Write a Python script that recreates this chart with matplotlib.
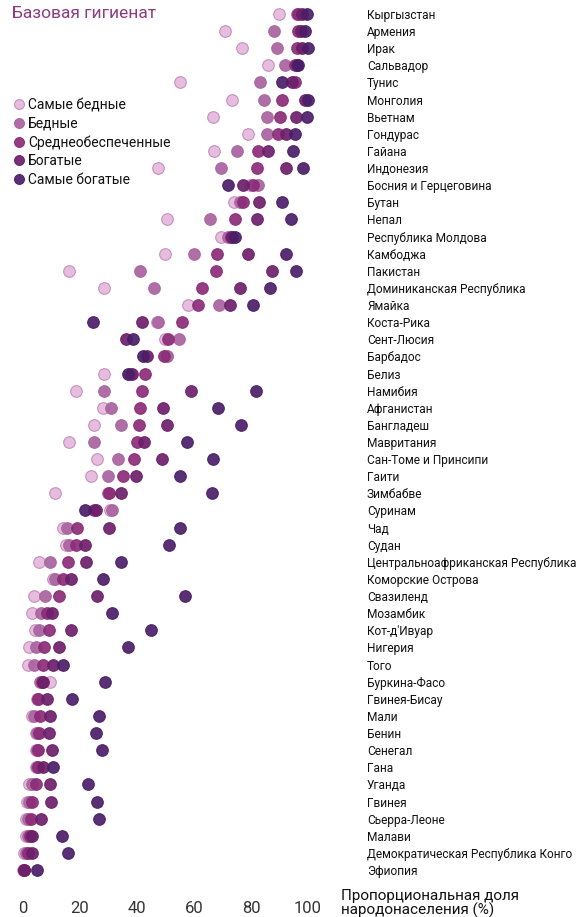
"""
Базовая гигиена: доля населения по квинтилям благосостояния, по странам.
Точечная диаграмма, одна строка на страну.
"""

import numpy as np
import matplotlib
matplotlib.use("Agg")
import matplotlib.pyplot as plt


countries = [
    "Кыргызстан", "Армения", "Ирак", "Сальвадор", "Тунис", "Монголия",
    "Вьетнам", "Гондурас", "Гайана", "Индонезия", "Босния и Герцеговина",
    "Бутан", "Непал", "Республика Молдова", "Камбоджа", "Пакистан",
    "Доминиканская Республика", "Ямайка", "Коста-Рика", "Сент-Люсия",
    "Барбадос", "Белиз", "Намибия", "Афганистан", "Бангладеш", "Мавритания",
    "Сан-Томе и Принсипи", "Гаити", "Зимбабве", "Суринам", "Чад", "Судан",
    "Центральноафриканская Республика", "Коморские Острова", "Свазиленд",
    "Мозамбик", "Кот-д'Ивуар", "Нигерия", "Того", "Буркина-Фасо",
    "Гвинея-Бисау", "Мали", "Бенин", "Сенегал", "Гана", "Уганда", "Гвинея",
    "Сьерра-Леоне", "Малави", "Демократическая Республика Конго", "Эфиопия",
]

poorest = [90, 71, 77, 86, 55, 73.5, 66.5, 79, 67, 47.5,
           79.5, 74, 50.5, 69.5, 50, 16.3, 28.5, 58, 47, 50,
           50.5, 28.4, 18.5, 28.2, 25, 16, 26, 24, 11.2, 30.5,
           14, 15, 5.7, 10.5, 4, 3.3, 4.2, 2, 1.6, 9.5,
           5, 3.3, 4.5, 4.5, 4.5, 2.1, 1.3, 1, 1, 0.4, 0.1]
poor = [96, 88, 89, 92, 83, 84.7, 85.5, 85.5, 75, 69.5,
        82.5, 76, 65.5, 72, 60, 41, 46, 68.8, 47.5, 54.7,
        50.5, 37.5, 28.5, 30.8, 34.4, 25, 33.2, 30, 30, 31.3,
        15.3, 16, 9.5, 11.2, 7.7, 6.2, 5.6, 4.4, 4, 6,
        5.2, 3.8, 4.8, 4.8, 4.8, 3, 2.2, 1.9, 1.6, 1.1, 0.2]
middle = [96.6, 96.4, 96, 95.4, 95.5, 90.8, 90.2, 89.6, 82.3, 82,
          80.6, 77.3, 74.5, 73, 68, 67.7, 62.7, 61.5, 55.7, 50.8,
          49.5, 42.8, 41.6, 41, 40.8, 39.9, 38.9, 35.2, 30.3, 25,
          18.8, 18.6, 15.9, 14.1, 12.6, 8.5, 9.1, 7.5, 7.1, 6.5,
          5.4, 6, 5.7, 5.4, 5.2, 4.6, 3.3, 2.7, 2.5, 1.9, 0.3]
rich = [98, 97.5, 97.8, 96, 94.5, 99, 95.8, 92.2, 86.1, 92.3,
        77.3, 82.9, 82, 73.5, 79, 87.3, 76.1, 72.6, 41.6, 36.1,
        43.4, 38.1, 59, 49.2, 50.6, 42.6, 48.7, 39.5, 34.3, 25.6,
        30.3, 21.8, 22, 16.7, 25.9, 10.3, 16.8, 12.7, 10.6, 7,
        8.5, 9.5, 9.2, 10.3, 7.1, 9.5, 9.7, 6.2, 3, 3, 0.5]
richest = [99.5, 99, 100, 96.6, 90.8, 100, 99.5, 95.4, 94.8, 98.1,
           71.8, 90.8, 94, 74.4, 92.3, 95.8, 86.7, 80.8, 24.7, 38.5,
           42, 37, 81.6, 68.5, 76.4, 57.7, 66.5, 55.1, 66.4, 21.8,
           55.1, 51.3, 34.4, 28, 56.8, 31.3, 44.8, 36.7, 13.9, 28.9,
           17.3, 26.8, 25.6, 27.8, 10.6, 22.9, 25.9, 26.8, 13.8, 15.7, 4.8]

quintile_labels = ["Самые бедные", "Бедные", "Среднеобеспеченные",
                   "Богатые", "Самые богатые"]
x_ticks = [0, 20, 40, 60, 80, 100]

# fill colour / edge colour per quintile, poorest -> richest
FACES = ["#e4b8dc", "#a8639f", "#8b2c78", "#6c1f6a", "#4b1e68"]
EDGES = ["#c38aba", "#a8639f", "#8b2c78", "#6c1f6a", "#4b1e68"]

W, H = 582, 917

plt.rcParams["font.family"] = ["Roboto", "DejaVu Sans"]


def main():
    fig = plt.figure(figsize=(W / 100, H / 100), dpi=100)

    # axes placed in pixels: 0 % at x=23, 100 % at x=308, rows 14..870
    x0, x100 = 23, 308
    ppu = (x100 - x0) / 100
    xlo, xhi = -5, 103
    left = x0 + xlo * ppu
    right = x0 + xhi * ppu
    row_step = (870 - 14) / (len(countries) - 1)
    top = 14 - 0.5 * row_step
    bottom = 870 + 0.5 * row_step
    ax = fig.add_axes([left / W, 1 - bottom / H, (right - left) / W, (bottom - top) / H])

    y = np.arange(len(countries))
    series = [poorest, poor, middle, rich, richest]
    for vals, label, fc, ec in zip(series, quintile_labels, FACES, EDGES):
        ax.scatter(vals, y, s=70, color=fc, edgecolors=ec, linewidths=0.8,
                   alpha=0.92, label=label, zorder=3, clip_on=False)

    ax.set_xlim(xlo, xhi)
    ax.set_ylim(len(countries) - 0.5, -0.5)

    ax.set_xticks(x_ticks)
    ax.set_xticklabels([str(t) for t in x_ticks], fontsize=12, color="#333333")
    ax.tick_params(axis="x", length=0, pad=16)

    ax.yaxis.tick_right()
    ax.set_yticks(y)
    ax.set_yticklabels(countries, fontsize=8.6, color="#111111")
    ax.tick_params(axis="y", length=0, pad=(367 - right) * 0.72)

    for s in ax.spines.values():
        s.set_visible(False)

    fig.text(12 / W, 1 - 13 / H, "Базовая гигиенат", fontsize=12.5,
             color="#8d3c82", ha="left", va="center")

    # axis title sits beside the tick labels, second line runs off the bottom
    fig.text(341 / W, 1 - 889 / H, "Пропорциональная доля\nнародонаселения (%)",
             fontsize=11, color="#111111", ha="left", va="top",
             linespacing=1.0)

    leg = ax.legend(loc="upper left", bbox_to_anchor=(15 / W, 1 - 98 / H),
                    bbox_transform=fig.transFigure, frameon=False,
                    fontsize=10, handlelength=0.6, handletextpad=0.35,
                    labelspacing=0.33, borderpad=0, borderaxespad=0,
                    scatteryoffsets=[0.5], markerscale=0.85)
    for t in leg.get_texts():
        t.set_color("#111111")

    fig.savefig("out.png", dpi=100)


if __name__ == "__main__":
    main()
